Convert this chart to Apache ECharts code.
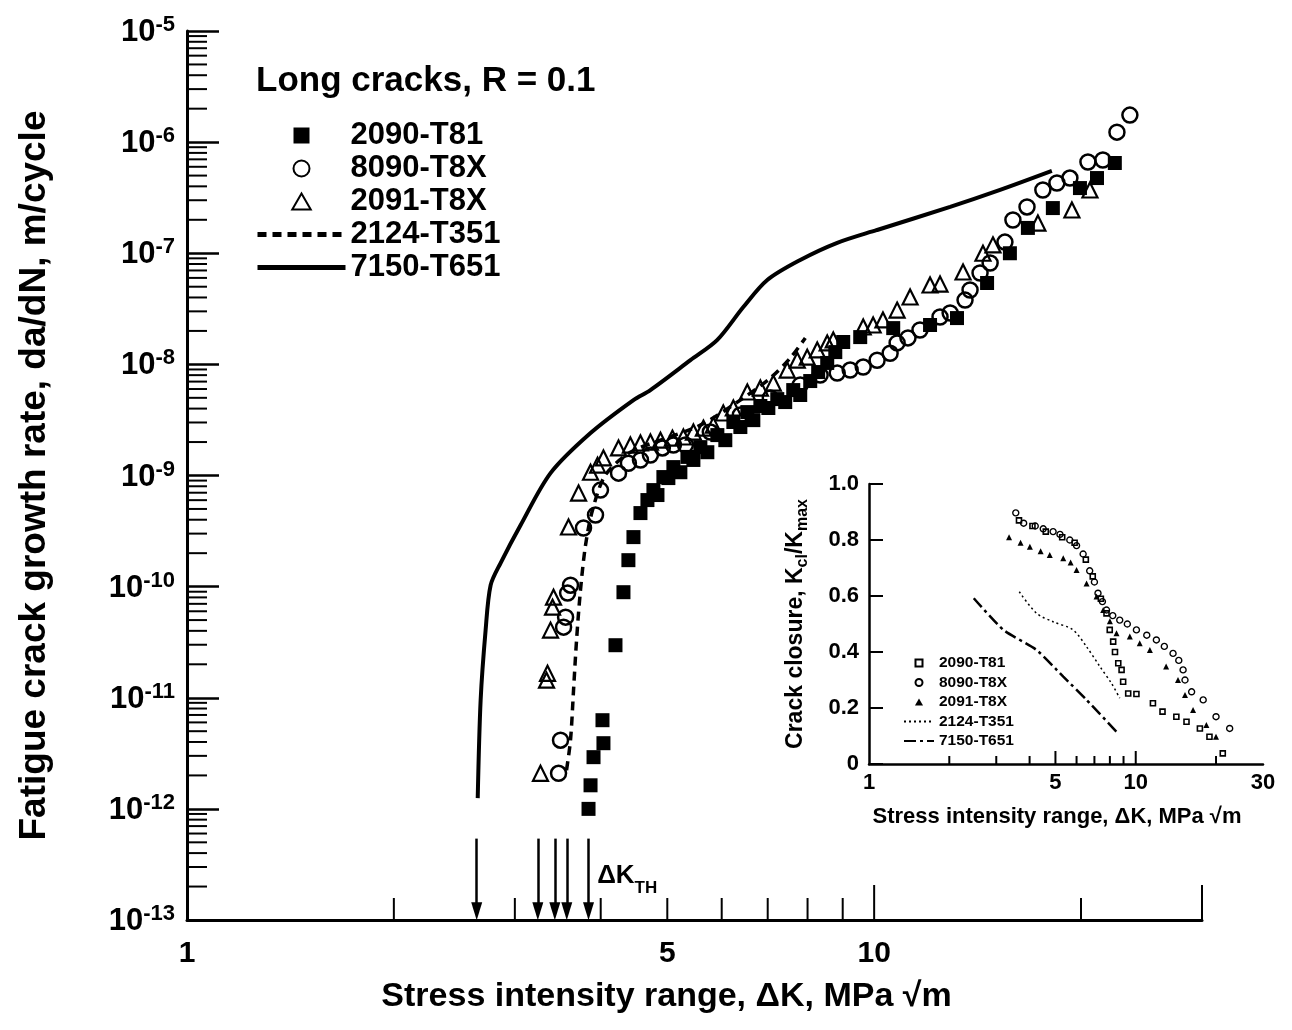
<!DOCTYPE html>
<html>
<head>
<meta charset="utf-8">
<script src="https://cdn.jsdelivr.net/npm/echarts@6/dist/echarts.min.js"></script>
<style>
  html, body { margin: 0; padding: 0; background: #fff; }
  #chart { width: 1292px; height: 1030px; }
</style>
</head>
<body>
<div id="chart"></div>
<script>
const FONT = '"Liberation Sans", Arial, Helvetica, sans-serif';

// main chart: da/dN vs delta K, long cracks R = 0.1
const alloy2090 = [
  [3.84, 1.0e-12], [3.866, 1.63e-12], [3.905, 2.92e-12], [4.037, 3.9e-12], [4.024, 6.28e-12],
  [4.203, 2.97e-11], [4.317, 8.91e-11], [4.389, 1.73e-10], [4.464, 2.79e-10], [4.57, 4.59e-10],
  [4.678, 6.01e-10], [4.773, 7.39e-10], [4.838, 6.67e-10], [4.935, 9.68e-10], [5.018, 9.48e-10],
  [5.103, 1.19e-9], [5.224, 1.07e-9], [5.349, 1.47e-9], [5.457, 1.38e-9], [5.586, 1.8e-9],
  [5.718, 1.62e-9], [5.913, 2.31e-9], [6.073, 2.08e-9], [6.239, 3.03e-9], [6.387, 2.73e-9],
  [6.538, 3.72e-9], [6.671, 3.15e-9], [6.83, 4.22e-9], [7.015, 4.05e-9], [7.228, 4.87e-9],
  [7.423, 4.58e-9], [7.625, 5.87e-9], [7.806, 5.3e-9], [8.072, 7.08e-9], [8.29, 8.53e-9],
  [8.545, 1.03e-8], [8.779, 1.29e-8], [9.015, 1.59e-8], [9.544, 1.76e-8], [10.66, 2.12e-8],
  [12.06, 2.26e-8], [13.2, 2.61e-8], [14.6, 5.4e-8], [15.76, 1.0e-7], [16.74, 1.69e-7],
  [18.2, 2.55e-7], [19.93, 3.86e-7], [21.1, 4.75e-7], [22.4, 6.49e-7]
];
const alloy8090 = [
  [3.473, 2.09e-12], [3.496, 4.15e-12], [3.532, 4.32e-11], [3.556, 5.31e-11], [3.58, 8.75e-11],
  [3.615, 1.03e-10], [3.776, 3.37e-10], [3.931, 4.41e-10], [3.997, 7.39e-10], [4.246, 1.05e-9],
  [4.389, 1.29e-9], [4.57, 1.38e-9], [4.725, 1.53e-9], [4.918, 1.77e-9], [5.103, 1.88e-9],
  [5.313, 1.88e-9], [5.775, 2.46e-9], [6.387, 3.5e-9], [7.061, 4.98e-9], [7.806, 6.52e-9],
  [8.345, 8.01e-9], [8.836, 8.35e-9], [9.228, 8.89e-9], [9.64, 9.46e-9], [10.1, 1.09e-8],
  [10.55, 1.26e-8], [10.8, 1.56e-8], [11.2, 1.73e-8], [11.66, 2.04e-8], [12.47, 2.67e-8],
  [12.9, 2.9e-8], [13.56, 3.79e-8], [13.79, 4.67e-8], [14.26, 6.64e-8], [14.75, 8.17e-8],
  [15.5, 1.26e-7], [15.92, 1.99e-7], [16.69, 2.61e-7], [17.6, 3.71e-7], [18.45, 4.29e-7],
  [19.27, 4.75e-7], [20.47, 6.62e-7], [21.52, 6.9e-7], [22.56, 1.23e-6], [23.56, 1.75e-6]
];
const alloy2091 = [
  [3.269, 2.09e-12], [3.347, 1.66e-11], [3.336, 1.44e-11], [3.381, 4.06e-11], [3.404, 6.53e-11],
  [3.415, 8.04e-11], [3.591, 3.44e-10], [3.714, 6.95e-10], [3.866, 1.07e-9], [3.958, 1.24e-9],
  [4.037, 1.44e-9], [4.246, 1.77e-9], [4.418, 1.88e-9], [4.57, 1.96e-9], [4.725, 2.0e-9],
  [4.887, 2.08e-9], [5.086, 2.17e-9], [5.277, 2.22e-9], [5.457, 2.46e-9], [5.643, 2.67e-9],
  [5.834, 2.84e-9], [6.032, 3.65e-9], [6.239, 4.05e-9], [6.538, 5.64e-9], [6.83, 6.12e-9],
  [7.133, 6.79e-9], [7.473, 8.89e-9], [7.729, 1.09e-8], [7.991, 1.16e-8], [8.264, 1.35e-8],
  [8.545, 1.56e-8], [8.72, 1.66e-8], [9.64, 2.17e-8], [9.966, 2.26e-8], [10.3, 2.51e-8],
  [10.8, 3.08e-8], [11.28, 4.04e-8], [12.06, 5.18e-8], [12.47, 5.28e-8], [13.47, 6.78e-8],
  [14.4, 1.0e-7], [14.89, 1.19e-7], [17.31, 1.87e-7], [19.4, 2.45e-7], [20.61, 3.71e-7]
];
const alloy2124 = [
  [3.567, 2.23e-12], [3.615, 4.15e-12], [3.652, 1.17e-11], [3.689, 3.3e-11], [3.738, 9.3e-11],
  [3.802, 2.37e-10], [3.892, 4.89e-10], [4.064, 1.01e-9], [4.418, 1.62e-9], [4.887, 2.08e-9],
  [5.586, 2.84e-9], [6.387, 4.77e-9], [7.061, 7.53e-9], [7.548, 1.14e-8], [7.94, 1.73e-8]
];
const alloy7150 = [
  [2.649, 1.25e-12], [2.675, 9.5e-12], [2.72, 4.06e-11], [2.766, 1.03e-10], [2.86, 1.63e-10],
  [3.059, 3.58e-10], [3.381, 1.05e-9], [3.866, 2.41e-9], [4.464, 4.77e-9], [4.725, 5.87e-9],
  [5.403, 1.09e-8], [5.913, 1.66e-8], [6.451, 3.28e-8], [6.99, 5.74e-8], [7.806, 8.69e-8],
  [8.836, 1.24e-7], [10.1, 1.62e-7], [12.9, 2.61e-7], [15.25, 3.71e-7], [18.14, 5.5e-7]
];
const thresholdK = [2.64, 3.24, 3.43, 3.57, 3.84];

// inset: crack closure Kcl/Kmax vs delta K
const closure2090 = [
  [3.65, 0.87], [4.1, 0.85], [4.6, 0.83], [5.3, 0.81], [5.9, 0.79], [6.5, 0.73], [6.9, 0.67],
  [7.4, 0.59], [7.77, 0.538], [7.99, 0.479], [8.23, 0.437], [8.36, 0.4], [8.6, 0.36],
  [8.85, 0.336], [8.97, 0.294], [9.37, 0.252], [10.06, 0.25], [11.6, 0.217], [12.6, 0.187],
  [14.2, 0.169], [15.5, 0.151], [17.4, 0.127], [18.9, 0.0975], [21.2, 0.038]
];
const closure8090 = [
  [3.55, 0.897], [3.8, 0.86], [4.2, 0.85], [4.5, 0.84], [4.9, 0.83], [5.2, 0.82], [5.66, 0.8],
  [6.0, 0.78], [6.35, 0.75], [6.72, 0.69], [7.0, 0.65], [7.22, 0.61], [7.5, 0.58], [7.77, 0.55],
  [8.2, 0.53], [8.71, 0.514], [9.3, 0.5], [10.06, 0.479], [11.0, 0.46], [11.95, 0.443],
  [12.8, 0.42], [13.8, 0.395], [14.5, 0.37], [15.05, 0.336], [15.3, 0.3], [16.2, 0.258],
  [17.9, 0.229], [20.0, 0.169], [22.5, 0.127]
];
const closure2091 = [
  [3.35, 0.81], [3.7, 0.79], [4.01, 0.776], [4.4, 0.76], [4.76, 0.746], [5.35, 0.735],
  [5.7, 0.72], [6.0, 0.693], [6.54, 0.645], [7.13, 0.598], [7.55, 0.55], [8.0, 0.51],
  [8.47, 0.467], [9.5, 0.455], [10.35, 0.431], [11.3, 0.407], [13.0, 0.348], [14.4, 0.3],
  [15.3, 0.246], [16.4, 0.193], [18.4, 0.139], [20.0, 0.0975]
];
const closure2124 = [
  [3.66, 0.615], [4.25, 0.538], [4.9, 0.508], [5.82, 0.479], [6.54, 0.419], [7.34, 0.348],
  [8.11, 0.288], [8.71, 0.235]
];
const closure7150 = [
  [2.47, 0.592], [3.19, 0.479], [4.25, 0.407], [5.35, 0.312], [6.54, 0.229], [8.47, 0.115]
];

const seriesNames = ['2090-T81', '8090-T8X', '2091-T8X', '2124-T351', '7150-T651'];
const lineNames = ['2124-T351', '7150-T651'];
const xLabelsMain = [1, 5, 10];
const xLabelsInset = [1, 5, 10, 30];
const tickMantissas = [2, 3, 4, 5, 6, 7, 8, 9];
const yDecades = [-13, -12, -11, -10, -9, -8, -7, -6];
const xMinorMain = [2, 3, 4, 5, 6, 7, 8, 9, 20];
const xMajorMain = [10, 30];
const xMinorInset = [2, 3, 4, 6, 7, 8, 9, 20];
const xMajorInset = [5, 10];

// marker shapes as paths so legend icons keep their aspect
const SQUARE = 'path://M0,0H10V10H0Z';
const TRIANGLE = 'path://M5,0L10,8.66L0,8.66Z';

// tick marks: [x, y, direction (0 = right from y axis, 1 = up from x axis), length]
const mainTicks = [];
yDecades.forEach(d => tickMantissas.forEach(m => mainTicks.push([1, m * Math.pow(10, d), 0, 20])));
xMinorMain.forEach(v => mainTicks.push([v, 1e-13, 1, 22]));
xMajorMain.forEach(v => mainTicks.push([v, 1e-13, 1, 35]));
const insetTicks = [];
xMinorInset.forEach(v => insetTicks.push([v, 0, 1, 8]));
xMajorInset.forEach(v => insetTicks.push([v, 0, 1, 13]));

function renderTick(params, api) {
  const p = api.coord([api.value(0), api.value(1)]);
  const len = api.value(3);
  const shape = api.value(2) === 0
    ? { x1: p[0], y1: p[1], x2: p[0] + len, y2: p[1] }
    : { x1: p[0], y1: p[1], x2: p[0], y2: p[1] - len };
  return { type: 'line', shape: shape, style: { stroke: '#000', lineWidth: 2 } };
}

const bold = (size) => ({ fontFamily: FONT, fontWeight: 'bold', fontSize: size, color: '#000' });

// lines have no markers: hide the dot the legend would draw on them
function legendItems(suffix) {
  return seriesNames.map(n => lineNames.indexOf(n) >= 0
    ? { name: n + suffix, itemStyle: { opacity: 0 } }
    : { name: n + suffix });
}

const chart = echarts.init(document.getElementById('chart'));
chart.setOption({
  animation: false,
  backgroundColor: '#fff',
  textStyle: { fontFamily: FONT, color: '#000' },
  title: {
    text: 'Long cracks, R = 0.1',
    left: 256, top: 64, padding: 0,
    textStyle: bold(35)
  },
  legend: [
    {
      data: legendItems(''),
      orient: 'vertical',
      left: 255, top: 120, padding: 0,
      itemWidth: 88, itemHeight: 16, itemGap: 2,
      selectedMode: false,
      lineStyle: { width: 5 },
      textStyle: Object.assign(bold(31), { lineHeight: 31 })
    },
    {
      data: legendItems(' '),
      orient: 'vertical',
      left: 903, top: 655, padding: 0,
      itemWidth: 30, itemHeight: 7, itemGap: 3.5,
      selectedMode: false,
      textStyle: Object.assign(bold(15.5), { lineHeight: 16 })
    }
  ],
  grid: [
    { left: 187, top: 31, width: 1015, height: 889, outerBoundsMode: 'none' },
    { left: 869, top: 484, width: 394, height: 280, outerBoundsMode: 'none' }
  ],
  xAxis: [
    {
      type: 'log', gridIndex: 0, min: 1, max: 30, logBase: 10,
      axisLine: { onZero: false, lineStyle: { color: '#000', width: 3 } },
      axisTick: { show: false },
      splitLine: { show: false },
      axisLabel: Object.assign(bold(30), { customValues: xLabelsMain, margin: 19 }),
      name: 'Stress intensity range, ΔK, MPa √m',
      nameLocation: 'middle', nameGap: 60,
      nameTextStyle: Object.assign(bold(34), { padding: [0, 56, 0, 0] })
    },
    {
      type: 'log', gridIndex: 1, min: 1, max: 30, logBase: 10,
      axisLine: { onZero: false, lineStyle: { color: '#000', width: 2.5 } },
      axisTick: { show: false },
      splitLine: { show: false },
      axisLabel: Object.assign(bold(22), { customValues: xLabelsInset, margin: 8 }),
      name: 'Stress intensity range, ΔK, MPa √m',
      nameLocation: 'middle', nameGap: 42,
      nameTextStyle: Object.assign(bold(22), { padding: [0, 18, 0, 0] })
    }
  ],
  yAxis: [
    {
      type: 'log', gridIndex: 0, min: 1e-13, max: 1e-5, logBase: 10, interval: 1, splitNumber: 8,
      axisLine: { onZero: false, lineStyle: { color: '#000', width: 3 } },
      axisTick: { inside: true, length: 32, lineStyle: { color: '#000', width: 2.5 } },
      splitLine: { show: false },
      axisLabel: {
        margin: 12,
        formatter: v => '{b|10}{s|-' + Math.abs(Math.round(Math.log10(v))) + '}',
        rich: {
          b: Object.assign(bold(31), { lineHeight: 34, verticalAlign: 'bottom' }),
          s: Object.assign(bold(22), { lineHeight: 22, verticalAlign: 'top' })
        }
      },
      name: 'Fatigue crack growth rate, da/dN, m/cycle',
      nameLocation: 'middle', nameRotate: 90, nameGap: 134,
      nameTextStyle: bold(37)
    },
    {
      type: 'value', gridIndex: 1, min: 0, max: 1, interval: 0.2,
      axisLine: { show: true, onZero: false, lineStyle: { color: '#000', width: 2.5 } },
      axisTick: { show: true, inside: true, length: 14, lineStyle: { color: '#000', width: 2 } },
      splitLine: { show: false },
      axisLabel: Object.assign(bold(22), {
        margin: 10,
        formatter: v => v === 0 ? '0' : v.toFixed(1)
      }),
      name: 'Crack closure, K{sub|cl}/K{sub|max}',
      nameLocation: 'middle', nameRotate: 90, nameGap: 58,
      nameTextStyle: Object.assign(bold(23), {
        rich: { sub: Object.assign(bold(16), { verticalAlign: 'bottom', lineHeight: 30 }) }
      })
    }
  ],
  series: [
    {
      name: '2090-T81', type: 'scatter', xAxisIndex: 0, yAxisIndex: 0,
      symbol: SQUARE, symbolSize: 14, data: alloy2090,
      itemStyle: { color: '#000', opacity: 1 }
    },
    {
      name: '8090-T8X', type: 'scatter', xAxisIndex: 0, yAxisIndex: 0,
      symbol: 'circle', symbolSize: 15, data: alloy8090,
      itemStyle: { color: 'rgba(255,255,255,0)', borderColor: '#000', borderWidth: 2.5, opacity: 1 }
    },
    {
      name: '2091-T8X', type: 'scatter', xAxisIndex: 0, yAxisIndex: 0,
      symbol: TRIANGLE, symbolSize: 15, data: alloy2091,
      itemStyle: { color: 'rgba(255,255,255,0)', borderColor: '#000', borderWidth: 2.2, opacity: 1 }
    },
    {
      name: '2124-T351', type: 'line', xAxisIndex: 0, yAxisIndex: 0,
      symbol: 'none', smooth: 0.3, data: alloy2124,
      lineStyle: { color: '#000', width: 3.5, type: [9, 6] }, itemStyle: { color: '#000' }
    },
    {
      name: '7150-T651', type: 'line', xAxisIndex: 0, yAxisIndex: 0,
      symbol: 'none', smooth: 0.3, data: alloy7150,
      lineStyle: { color: '#000', width: 4 }, itemStyle: { color: '#000' }
    },
    {
      type: 'scatter', xAxisIndex: 0, yAxisIndex: 0, silent: true,
      symbolSize: 0, data: [[3.9, 2.3e-13]],
      itemStyle: { color: '#000', opacity: 1 },
      label: {
        show: true, position: 'right', distance: 4, color: '#000', opacity: 1,
        formatter: '{a|ΔK}{b|TH}',
        rich: {
          a: Object.assign(bold(26), { lineHeight: 34, verticalAlign: 'top' }),
          b: Object.assign(bold(17), { lineHeight: 17, verticalAlign: 'bottom' })
        }
      },
      markLine: {
        silent: true, animation: false,
        symbol: ['none', 'triangle'], symbolSize: [11, 18],
        label: { show: false },
        lineStyle: { color: '#000', width: 2.5, type: 'solid', opacity: 1 },
        data: thresholdK.map(k => [{ coord: [k, 5.4e-13] }, { coord: [k, 1.2e-13] }])
      }
    },
    {
      type: 'custom', xAxisIndex: 0, yAxisIndex: 0, silent: true,
      renderItem: renderTick, data: mainTicks, z: 5
    },
    {
      name: '2090-T81 ', type: 'scatter', xAxisIndex: 1, yAxisIndex: 1,
      symbol: SQUARE, symbolSize: 5, data: closure2090,
      itemStyle: { color: 'rgba(255,255,255,0)', borderColor: '#000', borderWidth: 1.6, opacity: 1 }
    },
    {
      name: '8090-T8X ', type: 'scatter', xAxisIndex: 1, yAxisIndex: 1,
      symbol: 'circle', symbolSize: 6, data: closure8090,
      itemStyle: { color: 'rgba(255,255,255,0)', borderColor: '#000', borderWidth: 1.4, opacity: 1 }
    },
    {
      name: '2091-T8X ', type: 'scatter', xAxisIndex: 1, yAxisIndex: 1,
      symbol: TRIANGLE, symbolSize: 6, data: closure2091,
      itemStyle: { color: '#000', opacity: 1 }
    },
    {
      name: '2124-T351 ', type: 'line', xAxisIndex: 1, yAxisIndex: 1,
      symbol: 'none', smooth: 0.3, data: closure2124,
      lineStyle: { color: '#000', width: 1.5, type: [2, 3] }, itemStyle: { color: '#000' }
    },
    {
      name: '7150-T651 ', type: 'line', xAxisIndex: 1, yAxisIndex: 1,
      symbol: 'none', smooth: 0.2, data: closure7150,
      lineStyle: { color: '#000', width: 2.5, type: [12, 4, 3, 4] }, itemStyle: { color: '#000' }
    },
    {
      type: 'custom', xAxisIndex: 1, yAxisIndex: 1, silent: true,
      renderItem: renderTick, data: insetTicks, z: 5
    }
  ]
});
</script>
</body>
</html>
